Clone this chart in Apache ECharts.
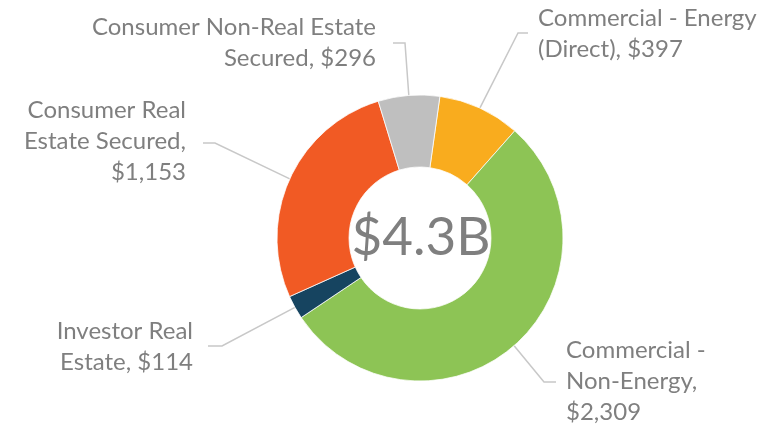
<!DOCTYPE html>
<html>
<head>
<meta charset="utf-8">
<script src="https://cdn.jsdelivr.net/npm/echarts@6/dist/echarts.min.js"></script>
<style>html,body{margin:0;padding:0;background:#fff}#echarts{width:777px;height:429px}</style>
</head>
<body>
<div id="echarts"></div>
<script>
var categories = ['Commercial - Energy\n(Direct)', 'Commercial -\nNon-Energy', 'Investor Real\nEstate', 'Consumer Real\nEstate Secured', 'Consumer Non-Real Estate\nSecured'];
var values = [397, 2309, 114, 1153, 296];
var colors = ['#F9AC1E', '#8DC455', '#164460', '#F15A24', '#BFBFBF'];
var totalLabel = '$4.3B';

// where each label sits, and the elbow of its leader line
var labelPos = [
  { x: 538, y: 34, align: 'left', bend: [518, 33], end: [528, 33], wrap: false },
  { x: 566, y: 381, align: 'left', bend: [544, 382], end: [556, 382], wrap: true },
  { x: 193, y: 347, align: 'right', bend: [222, 346], end: [208, 346], wrap: false },
  { x: 186, y: 141, align: 'right', bend: [215, 143], end: [203, 143], wrap: true },
  { x: 376, y: 43, align: 'right', bend: [405, 43], end: [393, 43], wrap: false }
];

var myChart = echarts.init(document.getElementById('echarts'));

var data = [];
for (var i = 0; i < values.length; i++) {
  data.push({ name: categories[i], value: values[i], itemStyle: { color: colors[i] } });
}

var option = {
  backgroundColor: '#ffffff',
  animation: false,
  textStyle: { fontFamily: 'Lato' },
  graphic: [{
    type: 'text',
    x: 421,
    y: 238,
    style: {
      text: totalLabel,
      fill: '#7F7F7F',
      font: '53px Lato',
      textAlign: 'center',
      textVerticalAlign: 'middle'
    }
  }],
  series: [{
    type: 'pie',
    center: [420, 238],
    radius: [71, 143],
    startAngle: 82,
    clockwise: true,
    avoidLabelOverlap: false,
    itemStyle: { borderColor: '#ffffff', borderWidth: 0.75 },
    label: {
      show: true,
      position: 'outside',
      color: '#7F7F7F',
      fontSize: 24,
      lineHeight: 31,
      fontFamily: 'Lato',
      formatter: function (p) {
        var lp = labelPos[p.dataIndex];
        return p.name + ',' + (lp.wrap ? '\n' : ' ') + '$' + p.value.toLocaleString('en-US');
      }
    },
    labelLine: {
      show: true,
      length: 20,
      length2: 10,
      lineStyle: { color: '#C8C8C8', width: 1.5 }
    },
    labelLayout: function (params) {
      var lp = labelPos[params.dataIndex];
      var start = params.labelLinePoints ? params.labelLinePoints[0] : lp.bend;
      return {
        x: lp.x,
        y: lp.y,
        align: lp.align,
        verticalAlign: 'middle',
        labelLinePoints: [start, lp.bend, lp.end]
      };
    },
    data: data
  }]
};

myChart.setOption(option);
</script>
</body>
</html>
